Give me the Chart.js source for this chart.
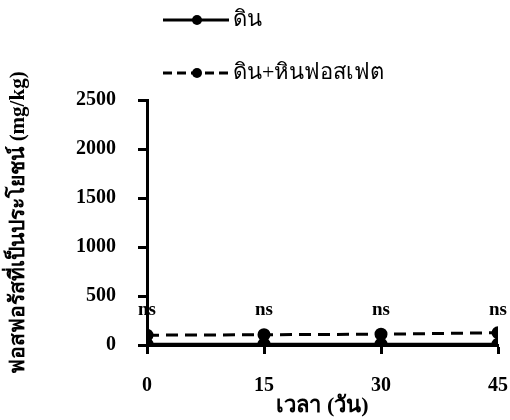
<!DOCTYPE html>
<html>
<head>
<meta charset="utf-8">
<script src="https://cdn.jsdelivr.net/npm/chart.js@4"></script>
<style>
  html, body { margin: 0; padding: 0; background: #fff; }
  #wrap { width: 510px; height: 420px; }
</style>
</head>
<body>
<div id="wrap"><canvas id="chart" width="510" height="420"></canvas></div>
<script>
const days = [0, 15, 30, 45];
const soil = [8, 8, 8, 8];
const soilRock = [100, 105, 110, 125];
const nsLabels = ['ns', 'ns', 'ns', 'ns'];
const nsLevel = 360;
const seriesNames = ['ดิน', 'ดิน+หินฟอสเฟต'];
const xTitle = 'เวลา (วัน)';
const yTitle = 'ฟอสฟอรัสที่เป็นประโยชน์ (mg/kg)';

const serif = "'Liberation Serif', 'Times New Roman', serif";

// ns marks above each sampling day
const nsPlugin = {
  id: 'nsMarks',
  afterDatasetsDraw: function (chart) {
    const ctx = chart.ctx;
    const x = chart.scales.x;
    const y = chart.scales.y;
    ctx.save();
    ctx.font = 'bold 19px ' + serif;
    ctx.fillStyle = '#000';
    ctx.textAlign = 'center';
    ctx.textBaseline = 'middle';
    days.forEach(function (d, i) {
      ctx.fillText(nsLabels[i], x.getPixelForValue(d), y.getPixelForValue(nsLevel));
    });
    ctx.restore();
  }
};

// line + dot legend at the top
const legendPlugin = {
  id: 'lineLegend',
  afterDraw: function (chart) {
    const ctx = chart.ctx;
    const rows = [20, 73];
    ctx.save();
    chart.data.datasets.forEach(function (ds, i) {
      const yy = rows[i];
      ctx.strokeStyle = '#000';
      ctx.lineWidth = 3;
      ctx.setLineDash(i ? [9, 5] : []);
      ctx.beginPath();
      ctx.moveTo(163, yy);
      ctx.lineTo(229, yy);
      ctx.stroke();
      ctx.setLineDash([]);
      ctx.beginPath();
      ctx.arc(197, yy, 5, 0, Math.PI * 2);
      ctx.fillStyle = '#000';
      ctx.fill();
      ctx.font = '22px ' + serif;
      ctx.textAlign = 'left';
      ctx.textBaseline = 'middle';
      ctx.fillText(ds.label, 233, yy);
    });
    ctx.restore();
  }
};

new Chart(document.getElementById('chart'), {
  type: 'line',
  data: {
    datasets: [
      {
        label: seriesNames[0],
        data: days.map(function (d, i) { return { x: d, y: soil[i] }; }),
        borderColor: '#000',
        backgroundColor: '#000',
        borderWidth: 3,
        pointRadius: 5,
        pointHoverRadius: 5,
        fill: false,
        tension: 0
      },
      {
        label: seriesNames[1],
        data: days.map(function (d, i) { return { x: d, y: soilRock[i] }; }),
        borderColor: '#000',
        backgroundColor: '#000',
        borderWidth: 3,
        borderDash: [12, 7],
        pointRadius: 5,
        pointHoverRadius: 5,
        fill: false,
        tension: 0
      }
    ]
  },
  options: {
    responsive: false,
    animation: false,
    events: [],
    layout: { padding: { top: 100, right: 0, left: 0, bottom: 0 } },
    plugins: {
      legend: { display: false },
      tooltip: { enabled: false }
    },
    scales: {
      x: {
        type: 'linear',
        min: 0,
        max: 45,
        afterFit: function (s) { s.height = 75; s.paddingRight = 12; },
        afterBuildTicks: function (s) { s.ticks = days.map(function (d) { return { value: d }; }); },
        grid: { display: true, drawOnChartArea: false, drawTicks: true, tickLength: 9, tickWidth: 3, color: '#000' },
        border: { display: true, color: '#000', width: 3 },
        ticks: { color: '#000', padding: 20, font: { family: serif, size: 20, weight: 'bold' }, callback: function (v) { return String(v); } },
        title: { display: true, text: xTitle, color: '#000', padding: { top: 0, bottom: 0 }, font: { family: serif, size: 22, weight: 'bold' } }
      },
      y: {
        min: 0,
        max: 2500,
        afterFit: function (s) { s.width = 147; },
        grid: { display: true, drawOnChartArea: false, drawTicks: true, tickLength: 9, tickWidth: 3, color: '#000' },
        border: { display: true, color: '#000', width: 3 },
        ticks: { stepSize: 500, color: '#000', padding: 22, font: { family: serif, size: 20, weight: 'bold' }, callback: function (v) { return String(v); } },
        title: { display: true, text: yTitle, color: '#000', padding: { top: 6, bottom: 0 }, font: { family: serif, size: 21, weight: 'bold' } }
      }
    }
  },
  plugins: [nsPlugin, legendPlugin]
});
</script>
</body>
</html>
